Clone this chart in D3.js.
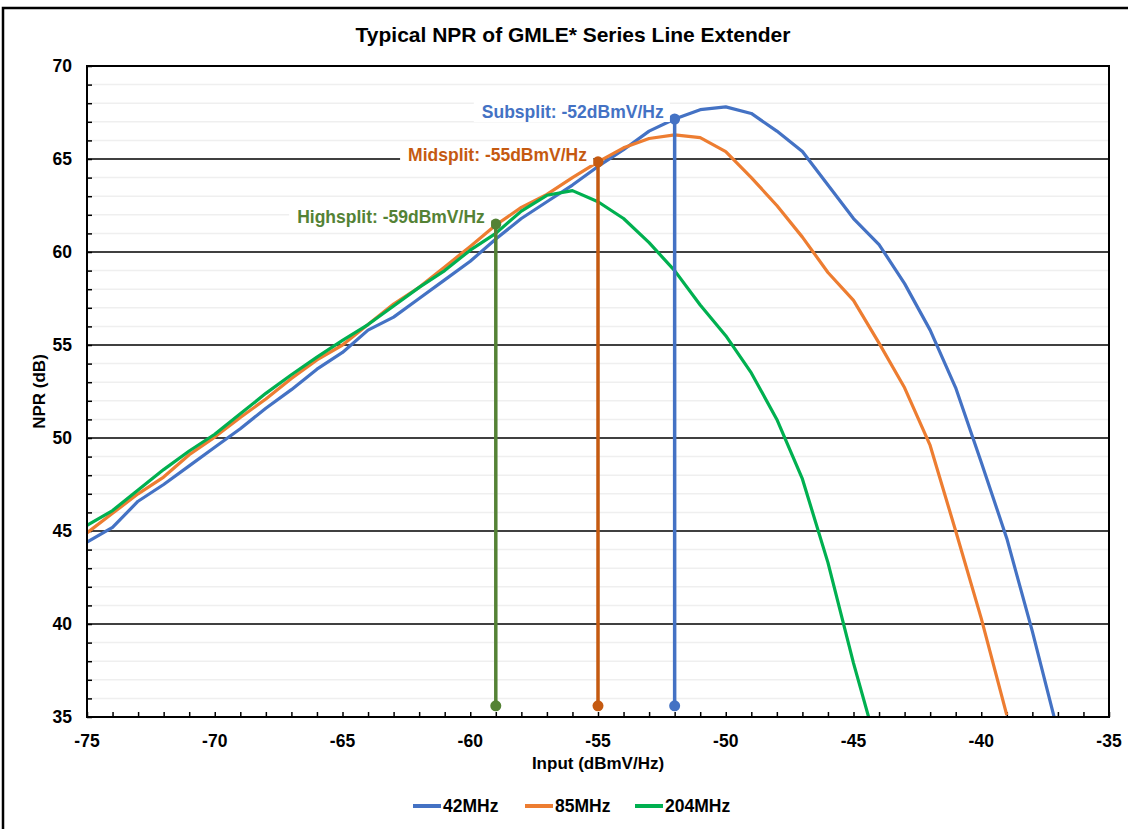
<!DOCTYPE html>
<html>
<head>
<meta charset="utf-8">
<script src="https://cdnjs.cloudflare.com/ajax/libs/d3/7.8.5/d3.min.js"></script>
<style>
  body { margin: 0; background: #fff; }
  svg text { font-family: "Liberation Sans", Arial, sans-serif; font-weight: bold; }
</style>
</head>
<body>
<div id="chart"></div>
<script>
// input levels, dBmV/Hz
const inputs = [-75, -74, -73, -72, -71, -70, -69, -68, -67, -66, -65, -64, -63, -62, -61, -60,
  -59, -58, -57, -56, -55, -54, -53, -52, -51, -50, -49, -48, -47, -46, -45, -44, -43, -42,
  -41, -40, -39, -38, -37];

// NPR per series, one value per input (null = not measured)
const npr42 = [44.4, 45.2, 46.6, 47.5, 48.5, 49.5, 50.5, 51.6, 52.6, 53.7, 54.6, 55.8, 56.5, 57.5,
  58.5, 59.5, 60.7, 61.8, 62.7, 63.6, 64.6, 65.5, 66.5, 67.15, 67.65, 67.8, 67.45, 66.5, 65.4,
  63.6, 61.8, 60.4, 58.3, 55.8, 52.7, 48.7, 44.6, 39.6, 34.2];
const npr85 = [44.9, 45.95, 47.0, 47.9, 49.1, 50.05, 51.1, 52.1, 53.2, 54.2, 55.0, 56.1, 57.2, 58.1,
  59.2, 60.3, 61.45, 62.4, 63.1, 64.0, 64.85, 65.6, 66.1, 66.3, 66.15, 65.4, 64.0, 62.5, 60.8,
  58.9, 57.4, 55.1, 52.7, 49.6, 45.0, 40.3, 35.1, null, null];
const npr204 = [45.3, 46.1, 47.2, 48.3, 49.3, 50.2, 51.3, 52.4, 53.4, 54.35, 55.25, 56.1, 57.1, 58.1,
  59.0, 60.1, 61.0, 62.2, 63.05, 63.3, 62.7, 61.8, 60.5, 59.0, 57.15, 55.5, 53.5, 51.0, 47.8,
  43.3, 37.9, 33.0, null, null, null, null, null, null, null];

const seriesNames = ['42MHz', '85MHz', '204MHz'];
const seriesValues = [npr42, npr85, npr204];
const seriesColors = ['#4472C4', '#ED7D31', '#00B050'];

// operating points
const markerNames = ['Subsplit: -52dBmV/Hz', 'Midsplit: -55dBmV/Hz', 'Highsplit: -59dBmV/Hz'];
const markerInput = [-52, -55, -59];
const markerTop = [67.15, 64.85, 61.5];
const markerBottom = [35.6, 35.6, 35.6];
const markerColors = ['#4472C4', '#C55A11', '#548235'];

const xTicks = [-75, -70, -65, -60, -55, -50, -45, -40, -35];
const yTicks = [35, 40, 45, 50, 55, 60, 65, 70];

const W = 1128, H = 829;
const margin = { left: 87, right: 19, top: 66, bottom: 112 };

const svg = d3.select('#chart').append('svg')
  .attr('width', W)
  .attr('height', H);

// outer chart border
svg.append('rect')
  .attr('x', 3).attr('y', 8)
  .attr('width', 1150).attr('height', 850)
  .attr('fill', 'none')
  .attr('stroke', '#000')
  .attr('stroke-width', 2.5);

const x = d3.scaleLinear().domain([-75, -35]).range([margin.left, W - margin.right]);
const y = d3.scaleLinear().domain([35, 70]).range([H - margin.bottom, margin.top]);

// minor grid
svg.append('g')
  .selectAll('line')
  .data(d3.range(36, 70).filter(d => d % 5 !== 0))
  .enter()
  .append('line')
  .attr('x1', x(-75)).attr('x2', x(-35))
  .attr('y1', d => y(d)).attr('y2', d => y(d))
  .attr('stroke', '#efefef')
  .attr('stroke-width', 1.5);

// major grid
svg.append('g')
  .selectAll('line')
  .data(yTicks.filter(d => d > 35 && d < 70))
  .enter()
  .append('line')
  .attr('x1', x(-75)).attr('x2', x(-35))
  .attr('y1', d => y(d)).attr('y2', d => y(d))
  .attr('stroke', '#000')
  .attr('stroke-width', 1.5);

// axes with inside minor ticks
svg.append('g')
  .attr('transform', `translate(0,${y(35)})`)
  .call(d3.axisTop(x).tickValues(d3.range(-75, -34, 1)).tickSize(5).tickFormat(''))
  .call(g => g.select('.domain').remove())
  .call(g => g.selectAll('line').attr('stroke-width', 1.5));

svg.append('g')
  .attr('transform', `translate(${x(-75)},0)`)
  .call(d3.axisRight(y).tickValues(d3.range(35, 71, 1)).tickSize(5).tickFormat(''))
  .call(g => g.select('.domain').remove())
  .call(g => g.selectAll('line').attr('stroke-width', 1.5));

// tick labels
svg.append('g')
  .selectAll('text')
  .data(xTicks)
  .enter()
  .append('text')
  .attr('x', d => x(d))
  .attr('y', y(35) + 30)
  .attr('text-anchor', 'middle')
  .style('font-size', '17.5px')
  .text(d => d);

svg.append('g')
  .selectAll('text')
  .data(yTicks)
  .enter()
  .append('text')
  .attr('x', x(-75) - 15)
  .attr('y', d => y(d) + 6)
  .attr('text-anchor', 'end')
  .style('font-size', '17.5px')
  .text(d => d);

// series lines
svg.append('clipPath').attr('id', 'plot-clip')
  .append('rect')
  .attr('x', x(-75)).attr('y', y(70))
  .attr('width', x(-35) - x(-75)).attr('height', y(35) - y(70));

const line = d3.line()
  .defined(d => d[1] != null)
  .x(d => x(d[0]))
  .y(d => y(d[1]));

svg.append('g')
  .attr('clip-path', 'url(#plot-clip)')
  .selectAll('path')
  .data(seriesValues)
  .enter()
  .append('path')
  .attr('d', vals => line(inputs.map((v, i) => [v, vals[i]])))
  .attr('fill', 'none')
  .attr('stroke', (d, i) => seriesColors[i])
  .attr('stroke-width', 3.2)
  .attr('stroke-linejoin', 'round');

// operating point drop lines
const markers = svg.append('g');
markerInput.forEach((v, i) => {
  markers.append('line')
    .attr('x1', x(v)).attr('x2', x(v))
    .attr('y1', y(markerTop[i])).attr('y2', y(markerBottom[i]))
    .attr('stroke', markerColors[i])
    .attr('stroke-width', 3.5);
  [markerTop[i], markerBottom[i]].forEach(d => {
    markers.append('circle')
      .attr('cx', x(v)).attr('cy', y(d))
      .attr('r', 5.5)
      .attr('fill', markerColors[i]);
  });
});

// marker labels with white backing
markerInput.forEach((v, i) => {
  const g = svg.append('g');
  const t = g.append('text')
    .attr('x', x(v) - 11)
    .attr('y', y(markerTop[i]) - 1)
    .attr('text-anchor', 'end')
    .style('font-size', '17.5px')
    .attr('fill', markerColors[i])
    .text(markerNames[i]);
  const bb = t.node().getBBox();
  g.insert('rect', 'text')
    .attr('x', bb.x - 8).attr('y', bb.y)
    .attr('width', bb.width + 14).attr('height', bb.height)
    .attr('fill', '#fff');
});

// plot border
svg.append('rect')
  .attr('x', x(-75)).attr('y', y(70))
  .attr('width', x(-35) - x(-75)).attr('height', y(35) - y(70))
  .attr('fill', 'none')
  .attr('stroke', '#000')
  .attr('stroke-width', 2);

// titles
svg.append('text')
  .attr('x', 573).attr('y', 42)
  .attr('text-anchor', 'middle')
  .style('font-size', '21px')
  .text('Typical NPR of GMLE* Series Line Extender');

svg.append('text')
  .attr('x', (x(-75) + x(-35)) / 2).attr('y', 769)
  .attr('text-anchor', 'middle')
  .style('font-size', '17px')
  .text('Input (dBmV/Hz)');

svg.append('text')
  .attr('transform', `translate(45,${(y(35) + y(70)) / 2}) rotate(-90)`)
  .attr('text-anchor', 'middle')
  .style('font-size', '17px')
  .text('NPR (dB)');

// legend
const legendX = [413, 525, 635];
const legend = svg.append('g');
seriesNames.forEach((name, i) => {
  legend.append('line')
    .attr('x1', legendX[i]).attr('x2', legendX[i] + 28)
    .attr('y1', 806).attr('y2', 806)
    .attr('stroke', seriesColors[i])
    .attr('stroke-width', 4);
  legend.append('text')
    .attr('x', legendX[i] + 30).attr('y', 812)
    .style('font-size', '17.5px')
    .text(name);
});
</script>
</body>
</html>
